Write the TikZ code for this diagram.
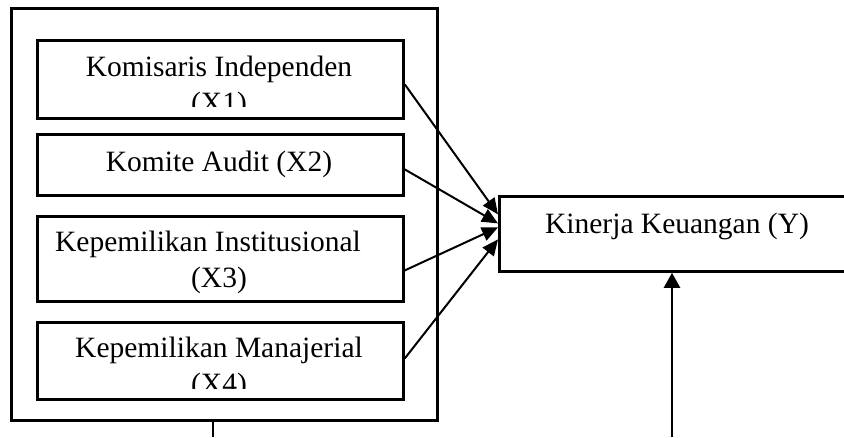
\documentclass[tikz,border=0pt]{standalone}
\usepackage{fontspec}
\setmainfont{Liberation Serif}
\usetikzlibrary{arrows.meta}
\begin{document}
\begin{tikzpicture}[x=1pt,y=-1pt,
  box/.style={draw, line width=2.8pt, inner sep=0pt, anchor=north west},
  lbl/.style={anchor=base, inner sep=0pt, font=\fontsize{29.5}{36}\selectfont},
  arr/.style={-{Triangle[length=16pt,width=14pt]}, line width=2pt},
  arrb/.style={-{Triangle[length=15pt,width=16pt]}, line width=2.4pt}]
\useasboundingbox (0,0) rectangle (844,437);
\clip (0,0) rectangle (844,437);
\node[box, minimum width=426pt, minimum height=412pt] (outer) at (10,7) {};
\node[box, minimum width=366pt, minimum height=78pt] (x1) at (36,39) {};
\node[box, minimum width=366pt, minimum height=61pt] (x2) at (36,133) {};
\node[box, minimum width=366pt, minimum height=85pt] (x3) at (36,215) {};
\node[box, minimum width=366pt, minimum height=77pt] (x4) at (36,321) {};
\node[box, minimum width=352pt, minimum height=75pt] (y) at (498,195) {};
\node[lbl] (x1a) at (219,76) {Komisaris Independen};
\begin{scope}
\clip (36,39) rectangle (402,106);
\node[lbl] (x1b) at (219,112) {(X1)};
\end{scope}
\node[lbl] (x2a) at (219,171) {Komite Audit (X2)};
\node[lbl] (x3a) at (208,251) {Kepemilikan Institusional};
\node[lbl] (x3b) at (219,287) {(X3)};
\node[lbl] (x4a) at (219,357) {Kepemilikan Manajerial};
\begin{scope}
\clip (36,321) rectangle (402,388);
\node[lbl] (x4b) at (219,393) {(X4)};
\end{scope}
\node[lbl] (ya) at (677,233) {Kinerja Keuangan (Y)};
\draw[arr] ([yshift=-5pt]x1.east) -- ([yshift=19.5pt]y.west);
\draw[arr] ([yshift=-4.5pt]x2.east) -- ([yshift=10.5pt]y.west);
\draw[arr] ([yshift=-11.5pt]x3.east) -- ([yshift=6.5pt]y.west);
\draw[arr] ([yshift=2.5pt]x4.east) -- ([yshift=-5.5pt]y.west);
\coordinate (b1) at (213,437);
\coordinate (b2) at (672,437);
\draw[line width=2.4pt] (outer.south -| b1) -- (b1);
\draw[arrb] (b2) -- (b2 |- y.south);
\end{tikzpicture}
\end{document}
